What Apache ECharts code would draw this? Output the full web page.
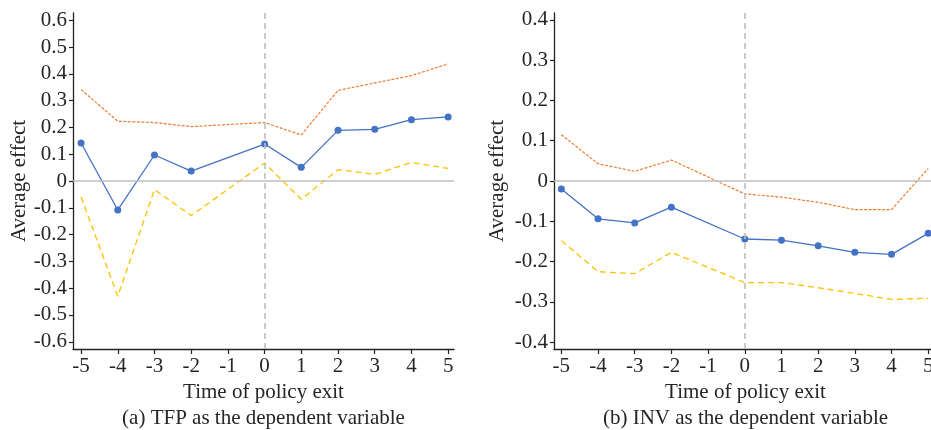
<!DOCTYPE html>
<html>
<head>
<meta charset="utf-8">
<script src="https://cdn.jsdelivr.net/npm/echarts@6/dist/echarts.min.js"></script>
<style>html,body{margin:0;padding:0;background:#fff}#c{width:931px;height:430px}</style>
</head>
<body>
<div id="c"></div>
<script>
// Time of policy exit (period -1 is the omitted base period)
const periods = [-5, -4, -3, -2, -1, 0, 1, 2, 3, 4, 5];

// (a) TFP
const tfpEffect = [0.142, -0.108, 0.097, 0.037, null, 0.138, 0.051, 0.189, 0.193, 0.229, 0.239];
const tfpUpper  = [0.341, 0.223, 0.218, 0.203, null, 0.218, 0.172, 0.338, 0.366, 0.393, 0.437];
const tfpLower  = [-0.060, -0.430, -0.032, -0.129, null, 0.067, -0.068, 0.042, 0.025, 0.069, 0.047];

// (b) INV
const invEffect = [-0.020, -0.094, -0.104, -0.065, null, -0.144, -0.147, -0.161, -0.177, -0.182, -0.130];
const invUpper  = [0.115, 0.043, 0.024, 0.052, null, -0.032, -0.040, -0.053, -0.071, -0.071, 0.031];
const invLower  = [-0.148, -0.225, -0.230, -0.177, null, -0.252, -0.252, -0.265, -0.279, -0.294, -0.291];

const tfpTicks = [-0.6, -0.5, -0.4, -0.3, -0.2, -0.1, 0, 0.1, 0.2, 0.3, 0.4, 0.5, 0.6];
const invTicks = [-0.4, -0.3, -0.2, -0.1, 0, 0.1, 0.2, 0.3, 0.4];
const xTicks = [-5, -4, -3, -2, -1, 0, 1, 2, 3, 4, 5];

const captionA = '(a) TFP as the dependent variable';
const captionB = '(b) INV as the dependent variable';
const xName = 'Time of policy exit';
const yName = 'Average effect';

const FONT = '"Liberation Serif", "Times New Roman", serif';
const TXT = '#262626';

function pairs(vals) {
  const out = [];
  periods.forEach((p, i) => { if (vals[i] !== null) out.push([p, vals[i]]); });
  return out;
}

function xAxisCfg(idx, min, max) {
  return {
    type: 'value', gridIndex: idx, min: min, max: max,
    name: xName, nameLocation: 'middle', nameGap: 32,
    nameTextStyle: { fontFamily: FONT, fontSize: 21, color: TXT },
    axisLine: { onZero: false, lineStyle: { color: '#222', width: 1.3 } },
    axisTick: { show: true, length: 5, lineStyle: { color: '#222', width: 1.2 }, customValues: xTicks },
    axisLabel: { fontFamily: FONT, fontSize: 21, color: TXT, margin: 7, customValues: xTicks },
    splitLine: { show: false }
  };
}

function yAxisCfg(idx, lim, ticks, gap) {
  return {
    type: 'value', gridIndex: idx, min: -lim, max: lim,
    name: yName, nameLocation: 'middle', nameGap: gap, nameRotate: 90,
    nameTextStyle: { fontFamily: FONT, fontSize: 21, color: TXT },
    axisLine: { show: true, onZero: false, lineStyle: { color: '#222', width: 1.3 } },
    axisTick: { show: true, length: 4, lineStyle: { color: '#222', width: 1.2 }, customValues: ticks },
    axisLabel: { fontFamily: FONT, fontSize: 21, color: TXT, margin: 6, customValues: ticks,
      formatter: v => (Math.abs(v) < 1e-9 ? '0' : String(+v.toFixed(1))) },
    splitLine: { show: false }
  };
}

function refLines() {
  return {
    silent: true, symbol: 'none', label: { show: false },
    data: [
      { yAxis: 0, lineStyle: { color: '#BFBFBF', width: 1.6, type: 'solid' } },
      { xAxis: 0, lineStyle: { color: '#BFBFBF', width: 1.6, type: [6, 4] } }
    ]
  };
}

function seriesSet(idx, eff, up, lo) {
  return [
    { type: 'line', xAxisIndex: idx, yAxisIndex: idx, data: pairs(up), symbol: 'none',
      lineStyle: { color: '#ED7D31', width: 1.2, type: [3, 1.5] }, z: 3, markLine: refLines() },
    { type: 'line', xAxisIndex: idx, yAxisIndex: idx, data: pairs(lo), symbol: 'none',
      lineStyle: { color: '#FFC000', width: 1.3, type: [6, 4] }, z: 3 },
    { type: 'line', xAxisIndex: idx, yAxisIndex: idx, data: pairs(eff), symbol: 'circle', symbolSize: 7,
      itemStyle: { color: '#4472C4' }, lineStyle: { color: '#4472C4', width: 1.3 }, z: 4 }
  ];
}

const chart = echarts.init(document.getElementById('c'), null, { renderer: 'canvas' });
chart.setOption({
  animation: false,
  backgroundColor: '#fff',
  grid: [
    { left: 73, top: 13, width: 381, height: 336, outerBoundsMode: 'none', containLabel: false },
    { left: 554, top: 13, width: 383, height: 336, outerBoundsMode: 'none', containLabel: false }
  ],
  xAxis: [xAxisCfg(0, -5.22, 5.16), xAxisCfg(1, -5.2, 5.24)],
  yAxis: [yAxisCfg(0, 0.627, tfpTicks, 42), yAxisCfg(1, 0.417, invTicks, 46)],
  graphic: [
    { type: 'text', x: 263.5, y: 418, style: { text: captionA, fontFamily: FONT, fontSize: 21, fill: TXT, textAlign: 'center', textVerticalAlign: 'middle' } },
    { type: 'text', x: 745.5, y: 418, style: { text: captionB, fontFamily: FONT, fontSize: 21, fill: TXT, textAlign: 'center', textVerticalAlign: 'middle' } }
  ],
  series: [].concat(seriesSet(0, tfpEffect, tfpUpper, tfpLower), seriesSet(1, invEffect, invUpper, invLower))
});
</script>
</body>
</html>
